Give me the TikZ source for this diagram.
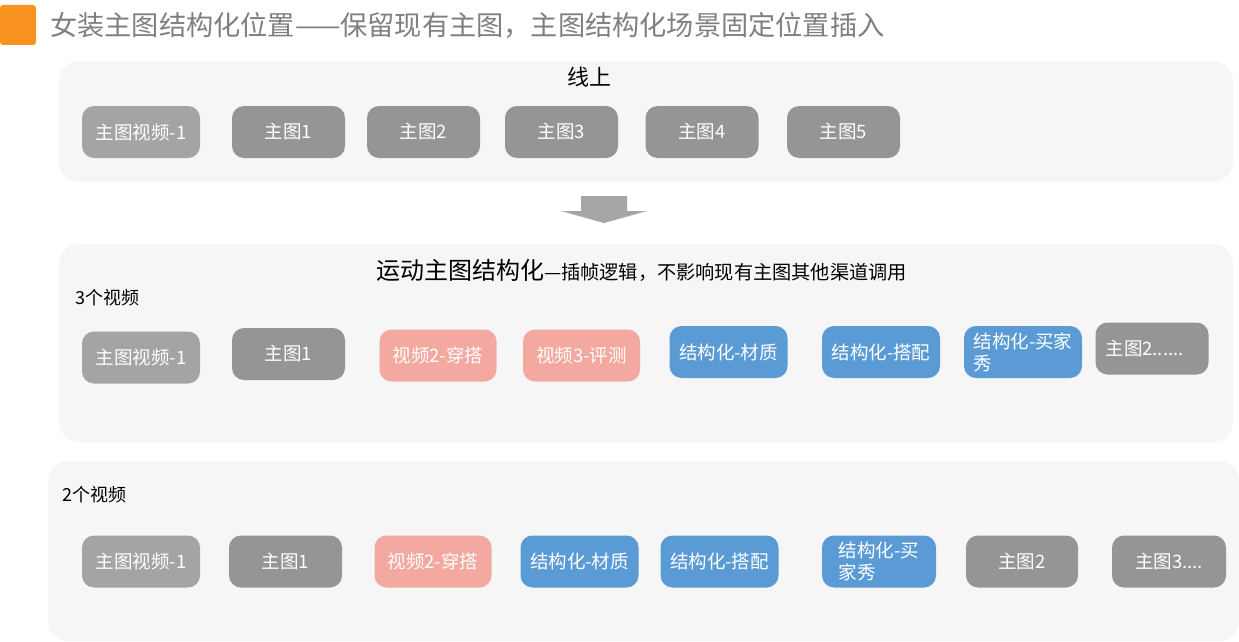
\documentclass[tikz,border=0pt]{standalone}
\usepackage{fontspec}
\setmainfont{Noto Sans CJK SC}
\definecolor{titleorange}{RGB}{247,147,30}
\definecolor{titlegray}{RGB}{127,127,127}
\definecolor{panelgray}{RGB}{246,246,246}
\definecolor{videogray}{RGB}{165,163,164}
\definecolor{imagegray}{RGB}{149,149,149}
\definecolor{videopink}{RGB}{243,168,160}
\definecolor{structblue}{RGB}{91,155,213}
\definecolor{arrowgray}{RGB}{166,166,166}

\begin{document}
\begin{tikzpicture}[x=1pt,y=-1pt,
		box/.style={rounded corners=12pt,minimum height=52pt,inner sep=0pt,text=white,font=\fontsize{18.5}{22}\selectfont,align=center},
		vidbox/.style={box,fill=videogray,minimum width=118pt},
		imgbox/.style={box,fill=imagegray,minimum width=113pt},
		pinkbox/.style={box,fill=videopink,minimum width=117pt},
		structbox/.style={box,fill=structblue,minimum width=118pt},
		panel/.style={fill=panelgray,rounded corners=20pt},
		label/.style={inner sep=0pt,text=black}]
		\useasboundingbox (0,0) rectangle (1239,642);
		% heading
		\fill[titleorange,rounded corners=3pt] (0,5) rectangle (36,45);
		\node[label,anchor=west,text=titlegray,font=\fontsize{27.2}{30}\selectfont] (title) at (50,25) {女装主图结构化位置——保留现有主图，主图结构化场景固定位置插入};
		% panels
		\fill[panel] (59,61) rectangle (1233,182);
		\fill[panel] (59,244) rectangle (1233,442);
		\fill[panel] (48,461) rectangle (1239,641);
		% down arrow between online and sport
		\fill[arrowgray] (581,196) -- (627,196) -- (627,211) -- (647,211) -- (604,223) -- (561,211) -- (581,211) -- cycle;
		% online row
		\node[label,font=\fontsize{22}{26}\selectfont] (online) at (589,77) {线上};
		\node[vidbox] (onvid)  at (141,132)   {主图视频-1};
		\node[imgbox] (onimg1) at (288.5,132) {主图1};
		\node[imgbox] (onimg2) at (423.5,132) {主图2};
		\node[imgbox] (onimg3) at (561.5,132) {主图3};
		\node[imgbox] (onimg4) at (702,132)   {主图4};
		\node[imgbox] (onimg5) at (843.5,132) {主图5};
		% sport row, 3 videos
		\node[label,anchor=west] (sporttitle) at (376,270) {{\fontsize{24}{28}\selectfont 运动主图结构化}{\fontsize{19.2}{22}\selectfont —插帧逻辑，不影响现有主图其他渠道调用}};
		\node[label,anchor=west,font=\fontsize{18}{22}\selectfont] (threevid) at (75,298) {3个视频};
		\node[vidbox]    (thvid)   at (141,357.5) {主图视频-1};
		\node[imgbox]    (thimg1)  at (288.5,354) {主图1};
		\node[pinkbox]   (thwear)  at (438,355.5) {视频2-穿搭};
		\node[pinkbox]   (threv)   at (581.5,355.5) {视频3-评测};
		\node[structbox] (thmat)   at (728.5,352) {结构化-材质};
		\node[structbox] (thmatch) at (881,352)   {结构化-搭配};
		\node[structbox,align=left] (thshow) at (1023,352) {结构化-买家\\秀};
		\node[imgbox,text width=93pt,inner xsep=10pt,align=left] (thimg2) at (1152,348.5) {主图2......};
		% sport row, 2 videos
		\node[label,anchor=west,font=\fontsize{18}{22}\selectfont] (twovid) at (62,495) {2个视频};
		\node[vidbox]    (twvid)   at (141,561.5)   {主图视频-1};
		\node[imgbox]    (twimg1)  at (285.5,561.5) {主图1};
		\node[pinkbox]   (twwear)  at (433,561.5)   {视频2-穿搭};
		\node[structbox] (twmat)   at (579.5,561.5) {结构化-材质};
		\node[structbox] (twmatch) at (719.5,561.5) {结构化-搭配};
		\node[structbox,minimum width=114pt,align=left] (twshow) at (879,561.5) {结构化-买\\家秀};
		\node[imgbox,minimum width=112pt] (twimg2) at (1022,561.5) {主图2};
		\node[imgbox,minimum width=114pt] (twimg3) at (1169,561.5) {主图3....};
	\end{tikzpicture}
\end{document}
